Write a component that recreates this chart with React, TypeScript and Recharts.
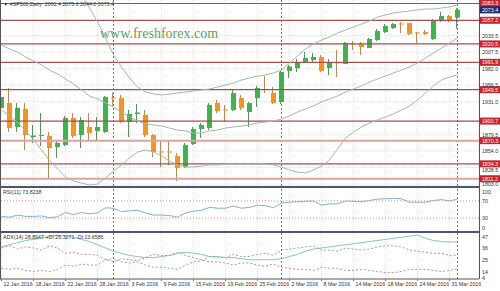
import { ComposedChart, Bar, Line, XAxis, YAxis, CartesianGrid, ReferenceLine } from "recharts";

// trading days shown on the chart (index = bar number)
const DAYS = [
  "12 Jan", "13 Jan", "14 Jan", "15 Jan", "18 Jan", "19 Jan", "20 Jan", "21 Jan", "22 Jan", "25 Jan",
  "26 Jan", "27 Jan", "28 Jan", "29 Jan", "1 Feb", "2 Feb", "3 Feb", "4 Feb", "5 Feb", "8 Feb",
  "9 Feb", "10 Feb", "11 Feb", "12 Feb", "15 Feb", "16 Feb", "17 Feb", "18 Feb", "19 Feb", "22 Feb",
  "23 Feb", "24 Feb", "25 Feb", "26 Feb", "29 Feb", "1 Mar", "2 Mar", "3 Mar", "4 Mar", "7 Mar",
  "8 Mar", "9 Mar", "10 Mar", "11 Mar", "14 Mar", "15 Mar", "16 Mar", "17 Mar", "18 Mar", "21 Mar",
  "22 Mar", "23 Mar", "24 Mar", "28 Mar", "29 Mar", "30 Mar", "31 Mar", "1 Apr",
];

const OPEN = [
  1921.0, 1928.8, 1891.5, 1919.4, 1876.0, 1877.5, 1877.5, 1860.5, 1863.6, 1905.5,
  1879.1, 1891.5, 1885.3, 1883.7, 1937.3, 1936.5, 1899.3, 1911.7, 1910.1, 1879.1,
  1853.5, 1853.5, 1846.5, 1829.4, 1865.1, 1888.4, 1889.9, 1928.8, 1918.7, 1917.9,
  1936.5, 1914.8, 1936.5, 1950.5, 1944.3, 1930.3, 1978.5, 1982.7, 1990.9, 1995.5,
  2000.2, 1983.1, 1991.6, 1989.3, 2021.2, 2020.4, 2014.2, 2026.6, 2039.0, 2045.2,
  2052.2, 2053.0, 2038.2, 2039.0, 2028.1, 2056.1, 2063.9, 2061.4,
];
const HIGH = [
  1944.3, 1952.1, 1928.8, 1928.8, 1894.6, 1913.2, 1883.7, 1871.3, 1908.6, 1913.2,
  1907.0, 1913.2, 1907.0, 1939.6, 1944.3, 1941.2, 1917.9, 1927.2, 1917.9, 1880.6,
  1871.3, 1871.3, 1851.1, 1866.7, 1891.5, 1897.7, 1928.8, 1933.4, 1925.7, 1949.0,
  1941.2, 1930.3, 1955.2, 1970.7, 1953.6, 1978.4, 1987.8, 1997.1, 2008.0, 2006.4,
  2003.3, 1997.1, 2011.1, 2023.5, 2025.0, 2023.5, 2029.7, 2043.7, 2051.4, 2053.0,
  2054.5, 2053.0, 2039.0, 2042.1, 2059.2, 2070.1, 2065.4, 2075.6,
];
const LOW = [
  1914.8, 1883.7, 1883.7, 1855.8, 1866.7, 1862.0, 1812.3, 1843.4, 1862.0, 1874.4,
  1858.9, 1871.3, 1871.3, 1882.2, 1925.0, 1897.7, 1876.0, 1897.7, 1876.0, 1844.9,
  1829.4, 1832.5, 1807.6, 1827.8, 1863.6, 1874.4, 1886.8, 1913.2, 1899.3, 1916.3,
  1917.9, 1891.5, 1922.6, 1944.3, 1927.2, 1927.2, 1967.6, 1976.9, 1990.9, 1992.4,
  1976.9, 1972.2, 1969.1, 1989.3, 2011.1, 2003.3, 2014.2, 2025.0, 2037.5, 2043.7,
  2037.5, 2034.3, 2021.9, 2034.3, 2026.6, 2054.5, 2054.5, 2044.0,
];
const CLOSE = [
  1938.1, 1889.9, 1921.0, 1879.1, 1878.3, 1879.1, 1858.9, 1866.7, 1905.5, 1877.5,
  1902.4, 1882.2, 1891.5, 1938.1, 1936.5, 1899.3, 1911.7, 1914.0, 1879.1, 1852.7,
  1851.9, 1851.9, 1827.8, 1863.6, 1888.4, 1894.6, 1925.7, 1916.3, 1917.1, 1944.3,
  1921.0, 1928.8, 1952.1, 1949.0, 1928.8, 1976.9, 1985.5, 1992.4, 1998.6, 2000.2,
  1978.5, 1990.9, 1990.9, 2021.9, 2019.6, 2015.7, 2028.1, 2040.6, 2048.3, 2051.4,
  2050.7, 2035.9, 2036.7, 2035.9, 2056.1, 2063.9, 2056.1, 2073.4,
];

// Bollinger bands
const BB_UPPER = [
  2119.8, 2122.9, 2116.6, 2107.3, 2104.2, 2107.3, 2116.6, 2119.8, 2119.8, 2110.4,
  2096.5, 2076.3, 2054.5, 2029.7, 2003.3, 1984.7, 1967.6, 1953.6, 1945.8, 1942.7,
  1941.2, 1942.7, 1944.3, 1945.8, 1947.4, 1949.0, 1950.5, 1953.6, 1956.7, 1959.8,
  1964.5, 1967.6, 1970.7, 1972.2, 1975.4, 1980.0, 1990.9, 2001.7, 2012.6, 2020.4,
  2026.6, 2031.2, 2037.5, 2042.1, 2046.8, 2051.4, 2056.1, 2062.3, 2065.4, 2068.5,
  2070.1, 2071.6, 2073.2, 2074.7, 2074.7, 2076.3, 2077.8, 2080.9,
];
const BB_MIDDLE = [
  2018.8, 2012.6, 2008.0, 2000.2, 1994.0, 1987.8, 1980.0, 1973.8, 1966.0, 1958.3,
  1949.0, 1939.6, 1935.0, 1928.8, 1922.6, 1914.8, 1907.0, 1900.8, 1896.2, 1894.6,
  1893.0, 1889.9, 1886.8, 1885.3, 1882.2, 1882.2, 1885.3, 1886.8, 1889.9, 1891.5,
  1893.0, 1894.6, 1897.7, 1899.3, 1900.8, 1903.9, 1908.6, 1914.8, 1919.4, 1924.1,
  1930.3, 1935.0, 1939.6, 1945.8, 1950.5, 1955.2, 1961.4, 1966.0, 1970.7, 1975.3,
  1980.0, 1984.7, 1990.9, 1998.6, 2006.4, 2014.2, 2021.9, 2029.7,
];
const BB_LOWER = [
  1917.9, 1908.6, 1899.3, 1885.3, 1871.3, 1855.8, 1840.2, 1826.3, 1813.9, 1807.6,
  1804.5, 1801.4, 1803.0, 1812.3, 1823.2, 1832.5, 1843.4, 1852.7, 1855.8, 1852.7,
  1846.5, 1838.7, 1832.5, 1829.4, 1829.4, 1830.9, 1832.5, 1832.5, 1834.0, 1834.0,
  1834.0, 1834.0, 1834.0, 1834.0, 1832.5, 1829.4, 1824.7, 1821.6, 1820.1, 1824.7,
  1830.9, 1840.2, 1857.3, 1874.4, 1883.7, 1891.5, 1897.7, 1902.4, 1907.0, 1911.7,
  1917.9, 1924.1, 1933.4, 1944.3, 1955.2, 1964.5, 1969.1, 1972.2,
];

const RSI_VALUES = [
  34, 32, 37, 34, 34, 35, 31, 33, 43, 38,
  43, 40, 42, 54, 53, 45, 47, 48, 42, 37,
  37, 36, 32, 42, 46, 48, 55, 53, 53, 58,
  53, 55, 60, 59, 54, 65, 67, 68, 69, 70,
  60, 63, 63, 70, 69, 68, 71, 74, 75, 76,
  75, 67, 67, 67, 71, 73, 70, 73.8,
];

const ADX_VALUES = [
  34, 36, 38, 40, 41, 42, 44, 45, 44, 43,
  41, 39, 36, 33, 30, 28, 26, 25, 24, 24,
  25, 26, 28, 29, 28, 27, 25, 25, 24, 24,
  23, 22, 22, 22, 22, 23, 25, 27, 30, 32,
  33, 34, 35, 36, 37, 38, 39, 40, 41, 42,
  43, 44, 45, 42, 40, 39, 38.5, 38.9,
];
const PLUS_DI = [
  14, 13, 14, 12, 11, 12, 11, 13, 17, 16,
  18, 17, 17, 22, 23, 20, 19, 20, 17, 15,
  15, 14, 13, 17, 20, 21, 25, 24, 24, 27,
  25, 25, 27, 28, 26, 31, 32, 33, 34, 35,
  31, 31, 30, 33, 32, 31, 32, 34, 35, 35,
  34, 31, 30, 29, 28, 28, 26, 26.3,
];
const MINUS_DI = [
  33, 35, 32, 34, 33, 31, 35, 33, 28, 29,
  27, 27, 26, 22, 20, 23, 22, 21, 24, 27,
  26, 26, 29, 26, 24, 22, 20, 20, 19, 17,
  19, 19, 17, 16, 18, 15, 14, 13, 13, 12,
  15, 14, 14, 12, 12, 13, 12, 11, 10, 10,
  11, 13, 13, 13, 12, 11, 12, 13.7,
];

// price scale labels (2059.0 and 1905.5 sit behind the level tags in the original)
const PRICE_TICKS = [2033.5, 2007.5, 1982.0, 1956.5, 1931.0, 1879.5, 1854.0, 1828.5, 1803.0];
const LEVELS = [2083.3, 2057.2, 2020.5, 1991.9, 1949.5, 1900.7, 1834.3];
const SOFT_LEVELS = [1870.3, 1811.2];
const LAST_PRICE = 2073.4;
const DATE_TICKS = [0, 4, 8, 12, 16, 20, 24, 28, 32, 36, 40, 44, 48, 52, 56];
const MONTH_STARTS = [14, 35, 57];
const RSI_TICKS = [100, 70, 30, 0];
const ADX_TICKS = [47, 36, 25, 14, 4];

const GREEN = "#3cb54a";
const ORANGE = "#f7931e";
const BAND = "#9dbcab";
const SEP = "#4e5279";
const TAG = "#c8242b";
const FONT = "'Liberation Sans', Arial, sans-serif";
const FS = 5.3;
const X_DOMAIN = [-0.1875, 59.6875];

const rows = DAYS.map((day, i) => ({
  i,
  day,
  range: [LOW[i], HIGH[i]],
  open: OPEN[i],
  high: HIGH[i],
  low: LOW[i],
  close: CLOSE[i],
  up: BB_UPPER[i],
  mid: BB_MIDDLE[i],
  lo: BB_LOWER[i],
  rsi: RSI_VALUES[i],
  adx: ADX_VALUES[i],
  pdi: PLUS_DI[i],
  mdi: MINUS_DI[i],
}));

function Candle(props: any) {
  const { x, y, width, height, payload } = props;
  if (x == null || y == null) return null;
  const top = Math.min(y, y + height);
  const h = Math.abs(height);
  const span = payload.high - payload.low;
  const k = span > 0 ? h / span : 0;
  const bull = payload.close >= payload.open;
  const bodyTop = top + (payload.high - Math.max(payload.open, payload.close)) * k;
  const bodyH = Math.max(1, Math.abs(payload.open - payload.close) * k);
  const cx = Math.round(x + width / 2) - 0.5;
  const fill = bull ? GREEN : ORANGE;
  return (
    <g>
      <line x1={cx} x2={cx} y1={top} y2={top + h} stroke={bull ? "#5a8f5e" : "#b9884f"} strokeWidth={1} />
      <rect x={Math.round(x)} y={bodyTop} width={width} height={bodyH} fill={fill} />
    </g>
  );
}

function PriceTag(props: any) {
  const { viewBox, value, fill } = props;
  if (!viewBox) return null;
  const x = viewBox.x + viewBox.width + 1;
  const y = viewBox.y;
  return (
    <g>
      <rect x={x} y={y - 3.5} width={20} height={7} fill={fill} />
      <text x={x + 10} y={y + 2} textAnchor="middle" fontSize={FS} fontFamily={FONT} fill="#fff">
        {value.toFixed(1)}
      </text>
    </g>
  );
}

// labels that sit right under a level tag are pushed down a little
const NUDGE: Record<string, number> = { "1828.5": 2 };

function AxisText(props: any) {
  const { y, payload, fmt, minY, maxY, dy = 0 } = props;
  const text = fmt ? fmt(payload.value) : String(payload.value);
  let ty = y + dy + (NUDGE[text] || 0);
  if (minY != null) ty = Math.max(minY, ty);
  if (maxY != null) ty = Math.min(maxY, ty);
  return (
    <text x={482} y={ty + 2} fontSize={FS} fontFamily={FONT} fill="#333">
      {text}
    </text>
  );
}

function DateTick(props: any) {
  const { x, payload } = props;
  return (
    <g>
      <line x1={x} x2={x} y1={46} y2={48} stroke="#777" />
      <text x={x + 2} y={53} fontSize={FS} fontFamily={FONT} fill="#333">
        {`${DAYS[payload.value]} 2016`}
      </text>
    </g>
  );
}

const label: any = { position: "absolute", left: 3, fontFamily: FONT, fontSize: FS, color: "#333", whiteSpace: "nowrap" };

export default function App() {
  return (
    <div style={{ position: "absolute", left: 0, top: 0, width: 500, height: 291, background: "#fff", overflow: "hidden" }}>
      <div style={{ position: "absolute", left: 0, top: 0 }}>
        <ComposedChart width={500} height={186} data={rows} margin={{ top: 0, right: 0, bottom: 0, left: 0 }}>
          <CartesianGrid stroke="#e2e2e2" strokeDasharray="1 1" />
          <XAxis type="number" dataKey="i" domain={X_DOMAIN} ticks={DATE_TICKS} hide allowDataOverflow />
          <YAxis
            orientation="right"
            width={21}
            domain={[1799.9, 2088.7]}
            ticks={PRICE_TICKS}
            interval={0}
            tickLine={false}
            axisLine={false}
            allowDataOverflow
            tick={<AxisText fmt={(v: number) => v.toFixed(1)} />}
          />
          {MONTH_STARTS.map((m) => (
            <ReferenceLine key={m} x={m} stroke="#777" strokeDasharray="2 2" />
          ))}
          {LEVELS.map((v) => (
            <ReferenceLine key={v} y={v} stroke="#a84e4e" strokeWidth={1.2} label={<PriceTag value={v} fill={TAG} />} />
          ))}
          {SOFT_LEVELS.map((v) => (
            <ReferenceLine key={v} y={v} stroke="#dca3a3" strokeWidth={2} label={<PriceTag value={v} fill={TAG} />} />
          ))}
          <ReferenceLine y={LAST_PRICE} stroke="none" label={<PriceTag value={LAST_PRICE} fill="#1d2a6e" />} />
          <Line type="linear" dataKey="up" stroke={BAND} dot={false} strokeWidth={1} isAnimationActive={false} />
          <Line type="linear" dataKey="mid" stroke={BAND} dot={false} strokeWidth={1} isAnimationActive={false} />
          <Line type="linear" dataKey="lo" stroke={BAND} dot={false} strokeWidth={1} isAnimationActive={false} />
          <Bar dataKey="range" barSize={5} shape={<Candle />} isAnimationActive={false} />
        </ComposedChart>
      </div>

      <div style={{ position: "absolute", left: 0, top: 188 }}>
        <ComposedChart width={500} height={43} data={rows} margin={{ top: 0, right: 0, bottom: 0, left: 0 }}>
          <CartesianGrid stroke="#e2e2e2" strokeDasharray="1 1" horizontal={false} />
          <XAxis type="number" dataKey="i" domain={X_DOMAIN} ticks={DATE_TICKS} hide allowDataOverflow />
          <YAxis
            orientation="right"
            width={21}
            domain={[0, 100]}
            ticks={RSI_TICKS}
            interval={0}
            tickLine={false}
            axisLine={false}
            tick={<AxisText minY={3.5} maxY={40} />}
          />
          {MONTH_STARTS.map((m) => (
            <ReferenceLine key={m} x={m} stroke="#777" strokeDasharray="2 2" />
          ))}
          <ReferenceLine y={70} stroke="#d98c8c" strokeDasharray="1 2" />
          <ReferenceLine y={30} stroke="#d98c8c" strokeDasharray="1 2" />
          <Line type="linear" dataKey="rsi" stroke="#7fb0d8" dot={false} strokeWidth={1} isAnimationActive={false} />
        </ComposedChart>
      </div>

      <div style={{ position: "absolute", left: 0, top: 233 }}>
        <ComposedChart width={500} height={58} data={rows} margin={{ top: 0, right: 0, bottom: 0, left: 0 }}>
          <CartesianGrid stroke="#e2e2e2" strokeDasharray="1 1" horizontal={false} />
          <XAxis
            type="number"
            dataKey="i"
            domain={X_DOMAIN}
            ticks={DATE_TICKS}
            interval={0}
            height={12}
            tickLine={false}
            axisLine={{ stroke: "#555" }}
            allowDataOverflow
            tick={<DateTick />}
          />
          <YAxis
            orientation="right"
            width={21}
            domain={[4, 47]}
            ticks={ADX_TICKS}
            interval={0}
            tickLine={false}
            axisLine={false}
            tick={<AxisText dy={3.3} minY={4} maxY={44.8} />}
          />
          {MONTH_STARTS.map((m) => (
            <ReferenceLine key={m} x={m} stroke="#777" strokeDasharray="2 2" />
          ))}
          <Line type="linear" dataKey="adx" stroke="#86c4c4" dot={false} strokeWidth={1} isAnimationActive={false} />
          <Line type="linear" dataKey="pdi" stroke="#8fa98f" strokeDasharray="2 2" dot={false} strokeWidth={1} isAnimationActive={false} />
          <Line type="linear" dataKey="mdi" stroke="#c98a8a" strokeDasharray="2 2" dot={false} strokeWidth={1} isAnimationActive={false} />
        </ComposedChart>
      </div>

      {/* pane separators and frame */}
      <div style={{ position: "absolute", left: 0, top: 186, width: 480, height: 2, background: SEP }} />
      <div style={{ position: "absolute", left: 0, top: 231, width: 480, height: 2, background: SEP }} />
      <div style={{ position: "absolute", left: 0, top: 0, width: 1, height: 279, background: "#555" }} />
      <div style={{ position: "absolute", left: 479, top: 0, width: 1, height: 279, background: "#555" }} />

      <div style={{ ...label, top: 1 }}>▼ #SP500,Daily&nbsp; 2061.4 2075.6 2044.0 2073.4</div>
      <div style={{ ...label, top: 189 }}>RSI(11) 73.8238</div>
      <div style={{ ...label, top: 234 }}>ADX(14) 28.8947 +DI:26.3271 -DI:13.6586</div>
      <div style={{ position: "absolute", left: 100, top: 26, fontFamily: "'Liberation Serif', 'DejaVu Serif', serif", fontSize: 14, color: "#58a35f", whiteSpace: "nowrap" }}>
        www.freshforex.com
      </div>
    </div>
  );
}
